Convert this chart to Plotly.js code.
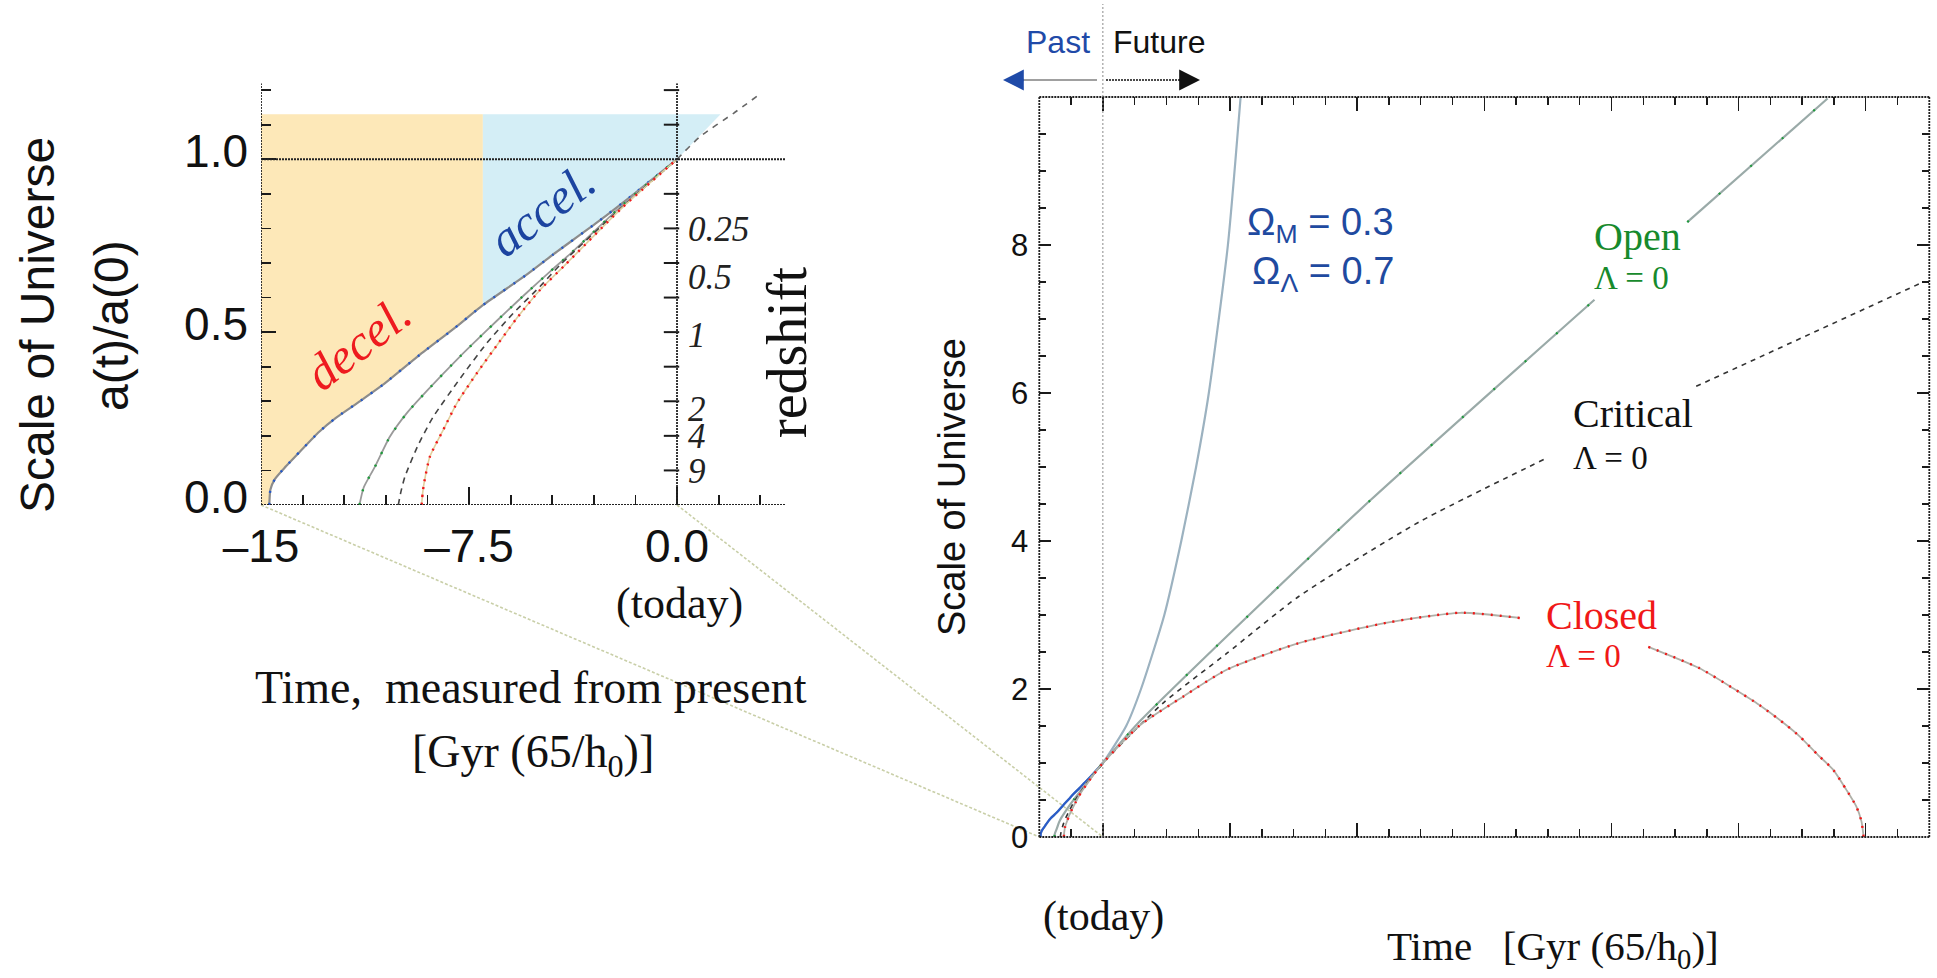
<!DOCTYPE html>
<html><head><meta charset="utf-8">
<script src="https://cdn.plot.ly/plotly-3.0.1.min.js"></script>
<style>html,body{margin:0;padding:0;background:#fff;}#chart{width:1937px;height:978px;}</style>
</head><body><div id="chart"></div>
<script>
// ---------------- data ----------------
// Left panel: time measured from present [Gyr], scale factor a(t)/a(0)
const lcdmPastT   = [-14.70,-14.66,-14.50,-14.10,-13.59,-12.90,-12.30,-11.40,-10.60,-9.30,-8.00,-7.00,-5.46,-4.46,-2.87,-1.58,0];
const lcdmPastA   = [0.000,0.045,0.075,0.112,0.155,0.212,0.252,0.302,0.348,0.433,0.513,0.578,0.664,0.725,0.818,0.898,1.000];
const lcdmNearFutT = [0, 0.84, 2.04, 2.93];
const lcdmNearFutA = [1.000, 1.066, 1.133, 1.185];
const openPastT   = [-11.45,-11.30,-10.89,-10.35,-9.75,-9.02,-7.82,-6.86,-6.14,-5.42,-4.58,-3.80,-2.00,0];
const openPastA   = [0.000,0.050,0.111,0.198,0.265,0.330,0.430,0.505,0.560,0.614,0.675,0.730,0.865,1.000];
const critPastT   = [-10.05,-9.95,-9.81,-9.33,-8.79,-7.82,-6.86,-5.90,-4.94,-4.22,-2.00,0];
const critPastA   = [0.000,0.040,0.082,0.174,0.255,0.366,0.468,0.555,0.632,0.694,0.860,1.000];
const closedPastT = [-9.21,-9.17,-9.12,-8.91,-8.43,-7.94,-7.22,-6.44,-5.78,-4.94,-4.04,-2.00,0];
const closedPastA = [0.000,0.035,0.063,0.140,0.217,0.294,0.381,0.468,0.540,0.622,0.694,0.858,1.000];
// decel / accel shaded regions
const decelAccelSplitT = -7.0;
const shadeTopA = 1.13;
const accelEdgeT = [0, 1.57];
const accelEdgeA = [1.0, 1.13];
// redshift scale on the "today" line
const redshiftLabels = ['0.25','0.5','1','2','4','9'];
const redshiftPos    = [0.800, 0.659, 0.492, 0.279, 0.200, 0.100];
const todayTickVals  = [0.1, 0.2, 0.3, 0.4, 0.5, 0.6, 0.7, 0.8, 0.9, 1.1, 1.2];
// Right panel: future part (null = gap left for the curve label)
const lcdmFutT   = [5.5, 9.0, 14.5, 18.5, 22.0, 25.0, 29.5, 32.5];
const lcdmFutA   = [1.50, 2.00, 3.00, 4.00, 5.00, 6.00, 8.00, 10.00];
const openFutT   = [9.0, 29.2, 63.1, 116.0, null, 137.9, 171.0];
const openFutA   = [1.58, 2.71, 4.55, 7.26, null, 8.31, 9.98];
const critFutT   = [14.2, 29.2, 46.2, 74.4, 104.7, null, 140.0, 192.8];
const critFutA   = [1.81, 2.48, 3.25, 4.25, 5.12, null, 6.09, 7.48];
const closedFutT = [8.75, 19.0, 29.2, 46.2, 67.4, 84.3, 98.4, null, 128.7, 140.8, 148.7, 155.0, 161.3, 164.4, 168.7, 172.3, 175.4, 177.8, 179.0, 179.5];
const closedFutA = [1.51, 1.90, 2.26, 2.62, 2.90, 3.03, 2.96, null, 2.57, 2.28, 2.01, 1.78, 1.51, 1.36, 1.11, 0.91, 0.64, 0.41, 0.21, 0.00];
// tick labels
const leftXTickVals = [-15, -7.5, 0];
const leftXTickText = ['\u201315', '\u20137.5', '0.0'];
const leftYTickVals = [0, 0.5, 1.0];
const leftYTickText = ['0.0', '0.5', '1.0'];
const rightYTickVals = [0, 2, 4, 6, 8];

// ---------------- layout geometry ----------------
const W = 1937, H = 978;
const SANS = 'Liberation Sans, Arial, Helvetica, sans-serif';
const SERIF = 'Liberation Serif, Times New Roman, serif';
const L = {x0: 261, x1: 786, yb: 505, yt: 83.2, xr: [-15, 3.93], yr: [0, 1.22]};
const R = {x0: 1039.3, x1: 1929.3, yb: 837, yt: 97, xr: [-15, 195], yr: [0, 10]};
function toPaper(P, x, y) {
  const px = P.x0 + (x - P.xr[0]) / (P.xr[1] - P.xr[0]) * (P.x1 - P.x0);
  const py = P.yb - (y - P.yr[0]) / (P.yr[1] - P.yr[0]) * (P.yb - P.yt);
  return [px / W, 1 - py / H];
}
const pX = px => px / W, pY = py => 1 - py / H;
const todayPos = toPaper(L, 0, 0)[0];
const leftPxPerUnit = (L.x1 - L.x0) / (L.xr[1] - L.xr[0]);
const TODAY_TICK_PX = 11;

// ---------------- traces ----------------
const traces = [];
function addLine(xa, ya, x, y, color, width, dash, shape) {
  traces.push({type: 'scatter', mode: 'lines', x: x, y: y, xaxis: xa, yaxis: ya,
    line: {color: color, width: width, dash: dash || 'solid', shape: shape || 'spline', smoothing: 0.6},
    connectgaps: false, hoverinfo: 'skip', showlegend: false});
}
// shaded regions built from the LCDM curve
const decelX = [-15], decelY = [0];
const accelX = [], accelY = [];
lcdmPastT.forEach((t, i) => {
  if (t <= decelAccelSplitT) { decelX.push(t); decelY.push(lcdmPastA[i]); }
  if (t >= decelAccelSplitT) { accelX.push(t); accelY.push(lcdmPastA[i]); }
});
decelX.push(decelAccelSplitT, -15); decelY.push(shadeTopA, shadeTopA);
accelX.push(...accelEdgeT.slice(1), decelAccelSplitT); accelY.push(...accelEdgeA.slice(1), shadeTopA);
traces.push({type: 'scatter', mode: 'lines', x: decelX, y: decelY, fill: 'toself', fillcolor: '#fde8b8',
  line: {width: 0, color: 'rgba(0,0,0,0)'}, hoverinfo: 'skip', showlegend: false, xaxis: 'x', yaxis: 'y'});
traces.push({type: 'scatter', mode: 'lines', x: accelX, y: accelY, fill: 'toself', fillcolor: '#d4eef6',
  line: {width: 0, color: 'rgba(0,0,0,0)'}, hoverinfo: 'skip', showlegend: false, xaxis: 'x', yaxis: 'y'});

// left panel curves
addLine('x', 'y', lcdmPastT, lcdmPastA, '#8c8c8c', 2.2);
addLine('x', 'y', lcdmPastT, lcdmPastA, '#2458c8', 2.4, '2px,10px');
addLine('x', 'y', lcdmNearFutT, lcdmNearFutA, '#666', 1.6, '6px,6px');
addLine('x', 'y', openPastT, openPastA, '#9a9a9a', 1.8);
addLine('x', 'y', openPastT, openPastA, '#1d9a3a', 2.4, '2px,12px');
addLine('x', 'y', critPastT, critPastA, '#444', 1.6, '6px,5px');
addLine('x', 'y', closedPastT, closedPastA, '#e2cf9e', 1.6);
addLine('x', 'y', closedPastT, closedPastA, '#f0181c', 2.4, '2px,6px');
// tick marks on the "today" line, pointing back into the panel
traces.push({type: 'scatter', mode: 'markers', xaxis: 'x', yaxis: 'y',
  x: todayTickVals.map(() => -(TODAY_TICK_PX / 2) / leftPxPerUnit), y: todayTickVals,
  marker: {symbol: 'line-ew', size: TODAY_TICK_PX, color: '#1a1a1a', line: {width: 2, color: '#1a1a1a'}},
  hoverinfo: 'skip', showlegend: false, cliponaxis: false});
// invisible anchor so the redshift label axis is drawn
traces.push({type: 'scatter', mode: 'markers', x: redshiftPos.map(() => 0), y: redshiftPos,
  xaxis: 'x', yaxis: 'y3', marker: {size: 1, opacity: 0}, hoverinfo: 'skip', showlegend: false});

// right panel curves (past from the left panel + future)
const cat = (a, b) => a.concat(b);
addLine('x2', 'y2', cat(lcdmPastT, lcdmFutT), cat(lcdmPastA, lcdmFutA), '#9cb2c0', 2.2);
addLine('x2', 'y2', lcdmPastT, lcdmPastA, '#2a5cc8', 2.2);
addLine('x2', 'y2', cat(openPastT, openFutT), cat(openPastA, openFutA), '#9aaaa8', 2.2);
addLine('x2', 'y2', cat(openPastT, openFutT), cat(openPastA, openFutA), '#1d9a3a', 2.2, '2px,40px');
addLine('x2', 'y2', cat(critPastT, critFutT), cat(critPastA, critFutA), '#333', 1.6, '5px,5px');
addLine('x2', 'y2', cat(closedPastT, closedFutT), cat(closedPastA, closedFutA), '#b0b0a8', 1.8);
addLine('x2', 'y2', cat(closedPastT, closedFutT), cat(closedPastA, closedFutA), '#f01818', 2.4, '2px,7px');

// ---------------- shapes ----------------
const FR = {color: '#222', width: 1.8, dash: '2px,1px'};
const shapes = [
  // left panel frame / reference lines
  {type: 'line', xref: 'x', yref: 'y', x0: -15, x1: -15, y0: 0, y1: 1.22, line: FR},
  {type: 'line', xref: 'x', yref: 'y', x0: 0, x1: 0, y0: 0, y1: 1.22, line: FR},
  {type: 'line', xref: 'x', yref: 'y', x0: -15, x1: 3.93, y0: 0, y1: 0, line: FR},
  {type: 'line', xref: 'x', yref: 'y', x0: -15, x1: 3.93, y0: 1, y1: 1, line: FR},
  // right panel frame
  {type: 'line', xref: 'x2 domain', yref: 'y2 domain', x0: 0, x1: 1, y0: 0, y1: 0, line: FR},
  {type: 'line', xref: 'x2 domain', yref: 'y2 domain', x0: 0, x1: 1, y0: 1, y1: 1, line: FR},
  {type: 'line', xref: 'x2 domain', yref: 'y2 domain', x0: 0, x1: 0, y0: 0, y1: 1, line: FR},
  {type: 'line', xref: 'x2 domain', yref: 'y2 domain', x0: 1, x1: 1, y0: 0, y1: 1, line: FR},
  // today line in right panel, running up through the Past/Future label
  {type: 'line', xref: 'x2', yref: 'paper', x0: 0, x1: 0, y0: pY(R.yb), y1: pY(4), line: {color: '#8a8a8a', width: 1, dash: '2px,2px'}},
  // arrow shafts
  {type: 'line', xref: 'paper', yref: 'paper', x0: pX(1012), x1: pX(1097), y0: pY(80), y1: pY(80), line: {color: '#a0a0a0', width: 2}},
  {type: 'line', xref: 'paper', yref: 'paper', x0: pX(1106), x1: pX(1190), y0: pY(80), y1: pY(80), line: {color: '#111', width: 1.6, dash: '2px,1px'}}
];
// zoom connector lines: left-panel corners -> the same points in the right panel
[[-15, 0], [0, 0]].forEach(([t, a]) => {
  const p0 = toPaper(L, t, a), p1 = toPaper(R, t, a);
  shapes.push({type: 'line', xref: 'paper', yref: 'paper', x0: p0[0], y0: p0[1], x1: p1[0], y1: p1[1],
    line: {color: '#c9cfa8', width: 1.6, dash: '3px,2px'}, layer: 'below'});
});

// ---------------- annotations ----------------
function txt(x, y, text, size, family, color, extra) {
  return Object.assign({xref: 'paper', yref: 'paper', x: x, y: y, text: text, showarrow: false,
    font: {size: size, family: family, color: color || '#111'}, xanchor: 'center', yanchor: 'middle'}, extra || {});
}
const ann = [
  txt(pX(37), pY(325), 'Scale of Universe', 48, SANS, '#111', {textangle: -90}),
  txt(pX(112), pY(326), 'a(t)/a(0)', 48, SANS, '#111', {textangle: -90}),
  txt(pX(787), pY(352), 'redshift', 56, SERIF, '#111', {textangle: -90}),
  txt(pX(679), pY(603), '(today)', 44, SERIF),
  txt(pX(531), pY(687), 'Time,\u00a0\u00a0measured from present', 46, SERIF),
  txt(pX(533), pY(755), '[Gyr (65/h<sub>0</sub>)]', 46, SERIF),
  txt(pX(358), pY(343), '<i>decel.</i>', 50, SERIF, '#ee1a1f', {textangle: -38}),
  txt(pX(542), pY(210), '<i>accel.</i>', 50, SERIF, '#1c44a0', {textangle: -37}),
  // right panel
  txt(pX(952), pY(487), 'Scale of Universe', 38, SANS, '#111', {textangle: -90}),
  txt(pX(1103), pY(916), '(today)', 42, SERIF),
  txt(pX(1553), pY(949), 'Time\u00a0\u00a0\u00a0[Gyr (65/h<sub>0</sub>)]', 41, SERIF),
  txt(pX(1092), pY(42), 'Past', 32, SANS, '#1f4aa8', {xanchor: 'right'}),
  txt(pX(1111), pY(42), 'Future', 32, SANS, '#111', {xanchor: 'left'}),
  {xref: 'x2', yref: 'y2', x: 69.1, y: 8.27, text: '\u03a9<sub>M</sub> = 0.3', showarrow: false, xanchor: 'right', yanchor: 'middle', font: {size: 38, family: SANS, color: '#1f4aa0'}},
  {xref: 'x2', yref: 'y2', x: 69.1, y: 7.61, text: '\u03a9<sub>\u039b</sub> = 0.7', showarrow: false, xanchor: 'right', yanchor: 'middle', font: {size: 38, family: SANS, color: '#1f4aa0'}},
  {xref: 'x2', yref: 'y2', x: 115.4, y: 8.12, text: 'Open', showarrow: false, xanchor: 'left', yanchor: 'middle', font: {size: 40, family: SERIF, color: '#178a2c'}},
  {xref: 'x2', yref: 'y2', x: 115.4, y: 7.55, text: '\u039b = 0', showarrow: false, xanchor: 'left', yanchor: 'middle', font: {size: 33, family: SERIF, color: '#178a2c'}},
  {xref: 'x2', yref: 'y2', x: 110.4, y: 5.72, text: 'Critical', showarrow: false, xanchor: 'left', yanchor: 'middle', font: {size: 40, family: SERIF, color: '#111'}},
  {xref: 'x2', yref: 'y2', x: 110.4, y: 5.12, text: '\u039b = 0', showarrow: false, xanchor: 'left', yanchor: 'middle', font: {size: 33, family: SERIF, color: '#111'}},
  {xref: 'x2', yref: 'y2', x: 104.0, y: 2.99, text: 'Closed', showarrow: false, xanchor: 'left', yanchor: 'middle', font: {size: 40, family: SERIF, color: '#f01818'}},
  {xref: 'x2', yref: 'y2', x: 104.0, y: 2.44, text: '\u039b = 0', showarrow: false, xanchor: 'left', yanchor: 'middle', font: {size: 33, family: SERIF, color: '#f01818'}},
  // arrow heads
  {xref: 'paper', yref: 'paper', x: pX(1003), y: pY(80), ax: 22, ay: 0, text: '', showarrow: true,
   arrowhead: 2, arrowsize: 1.6, arrowwidth: 2.6, arrowcolor: '#1f4aa8'},
  {xref: 'paper', yref: 'paper', x: pX(1200), y: pY(80), ax: -22, ay: 0, text: '', showarrow: true,
   arrowhead: 2, arrowsize: 1.6, arrowwidth: 2.6, arrowcolor: '#111'}
];

// ---------------- axes ----------------
const tickCol = '#1a1a1a';
const layout = {
  width: W, height: H, margin: {l: 0, r: 0, t: 0, b: 0},
  paper_bgcolor: '#fff', plot_bgcolor: 'rgba(0,0,0,0)', showlegend: false,
  xaxis: {domain: [L.x0 / W, L.x1 / W], range: L.xr, anchor: 'y', showgrid: false, zeroline: false, showline: false,
    tickmode: 'array', tickvals: leftXTickVals, ticktext: leftXTickText, ticks: 'inside', ticklen: 18, tickwidth: 1.8, tickcolor: tickCol,
    minor: {tickmode: 'linear', tick0: -15, dtick: 1.5, ticks: 'inside', ticklen: 10, tickwidth: 1.8, tickcolor: tickCol, showgrid: false},
    tickfont: {family: SANS, size: 46, color: '#111'}, ticklabelstandoff: 10},
  yaxis: {domain: [1 - L.yb / H, 1 - L.yt / H], range: L.yr, anchor: 'x', showgrid: false, zeroline: false, showline: false,
    tickmode: 'array', tickvals: leftYTickVals, ticktext: leftYTickText, ticks: 'inside', ticklen: 15, tickwidth: 1.8, tickcolor: tickCol,
    minor: {tickmode: 'linear', tick0: 0, dtick: 0.1, ticks: 'inside', ticklen: 10, tickwidth: 1.8, tickcolor: tickCol, showgrid: false},
    tickfont: {family: SANS, size: 46, color: '#111'}, ticklabelstandoff: 12, ticklabelshift: -8},
  // redshift labels (no marks) on the today line
  yaxis3: {overlaying: 'y', anchor: 'free', position: todayPos, side: 'right', range: L.yr,
    showgrid: false, zeroline: false, showline: false,
    tickmode: 'array', tickvals: redshiftPos, ticktext: redshiftLabels.map(s => '<i>' + s + '</i>'), ticks: '',
    tickfont: {family: SERIF, size: 35, color: '#222'}, ticklabelstandoff: 10},
  xaxis2: {domain: [R.x0 / W, R.x1 / W], range: R.xr, anchor: 'y2', showgrid: false, zeroline: false, showline: false,
    tickmode: 'linear', tick0: 0, dtick: 30, ticks: 'inside', ticklen: 14, tickwidth: 1.5, tickcolor: tickCol, mirror: 'ticks',
    showticklabels: false,
    minor: {tickmode: 'linear', tick0: 0, dtick: 7.5, ticks: 'inside', ticklen: 8, tickwidth: 1.4, tickcolor: tickCol, showgrid: false}},
  yaxis2: {domain: [1 - R.yb / H, 1 - R.yt / H], range: R.yr, anchor: 'x2', showgrid: false, zeroline: false, showline: false,
    tickmode: 'array', tickvals: rightYTickVals, ticks: 'inside', ticklen: 12, tickwidth: 1.5, tickcolor: tickCol, mirror: 'ticks',
    minor: {tickmode: 'linear', tick0: 0, dtick: 0.5, ticks: 'inside', ticklen: 7, tickwidth: 1.4, tickcolor: tickCol, showgrid: false},
    tickfont: {family: SANS, size: 31, color: '#111'}, ticklabelstandoff: 10},
  shapes: shapes,
  annotations: ann
};

Plotly.newPlot('chart', traces, layout, {staticPlot: true, displayModeBar: false});
</script>
</body></html>
